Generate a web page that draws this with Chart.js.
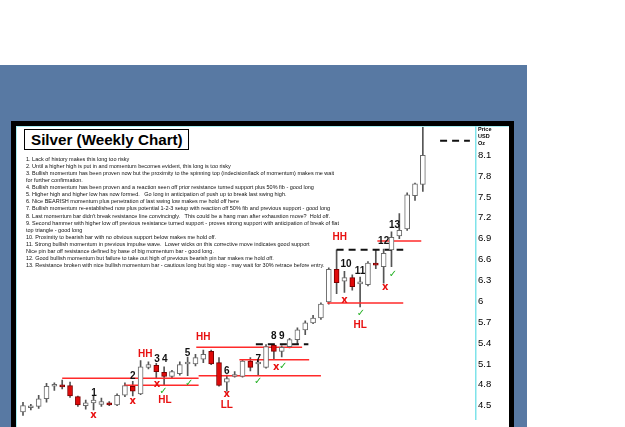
<!DOCTYPE html>
<html><head><meta charset="utf-8">
<script src="https://cdn.jsdelivr.net/npm/chart.js@4/dist/chart.umd.min.js"></script>
<style>
html,body{margin:0;padding:0;width:625px;height:427px;overflow:hidden;background:#fff;}
#bg{position:absolute;left:0;top:65px;width:527px;height:362px;background:#5879a3;}
#frame{position:absolute;left:11px;top:121px;width:503px;height:330px;box-sizing:border-box;border:5px solid #000;background:#fff;}
#inner{position:absolute;left:0;top:0;right:0;bottom:0;border-left:1px solid #a8eef2;border-top:1px solid #a8eef2;}
#c{position:absolute;left:0;top:0;}
#title{position:absolute;left:24px;top:129px;width:165px;height:21px;box-sizing:border-box;border:1px solid #000;background:#fff;font:bold 15.2px "Liberation Sans",Arial,sans-serif;line-height:19px;padding-left:6px;color:#000;white-space:nowrap;}
#notes{position:absolute;left:26px;top:155.5px;font:5.5px "Liberation Sans",Arial,sans-serif;line-height:7.13px;white-space:pre;color:#111;}
#unit{position:absolute;left:478px;top:126px;font:bold 5.5px "Liberation Sans",Arial,sans-serif;line-height:7px;color:#000;}
</style></head>
<body>
<div id="bg"></div>
<div id="frame"><div id="inner"></div></div>
<canvas id="c" width="625" height="427"></canvas>
<div id="title">Silver (Weekly Chart)</div>
<div id="notes"></div>
<div id="unit">Price<br>USD<br>Oz</div>
<script>
// ---- data ----
const weeks  = Array.from({length: 52}, (_, k) => k);
const opens  = [4.41,4.47,4.49,4.60,4.78,4.80,4.79,4.63,4.50,4.54,4.52,4.54,4.51,4.65,4.78,4.67,5.05,5.08,4.98,4.92,4.96,5.10,5.10,5.17,5.28,5.12,4.84,4.92,4.92,5.14,5.10,5.05,5.37,5.28,5.35,5.45,5.59,5.69,5.76,5.99,6.46,6.29,6.34,6.25,6.24,6.54,6.50,6.74,6.94,7.04,7.52,7.68];
const closes = [4.50,4.48,4.60,4.78,4.79,4.77,4.64,4.51,4.54,4.58,4.56,4.51,4.65,4.79,4.71,5.06,5.09,4.99,4.92,4.99,5.09,5.11,5.19,5.24,5.10,4.79,4.89,4.93,5.14,5.05,5.11,5.35,5.28,5.34,5.45,5.59,5.69,5.76,5.96,6.46,6.27,6.34,6.21,6.26,6.55,6.52,6.69,6.92,7.02,7.53,7.69,8.10];
const highs  = [4.55,4.52,4.65,4.82,4.83,4.87,4.84,4.64,4.58,4.65,4.61,4.56,4.67,4.83,4.85,5.15,5.13,5.11,5.06,5.01,5.13,5.20,5.24,5.30,5.30,5.19,4.94,4.99,5.16,5.19,5.16,5.38,5.38,5.36,5.47,5.62,5.72,5.80,5.98,6.48,6.74,6.43,6.38,6.35,6.57,6.74,6.75,7.00,7.26,7.56,7.70,8.50];
const lows   = [4.36,4.44,4.46,4.55,4.72,4.74,4.62,4.49,4.45,4.44,4.49,4.50,4.50,4.63,4.64,4.66,5.03,4.89,4.79,4.90,4.94,4.93,5.07,5.12,5.09,4.78,4.71,4.91,4.91,5.00,4.93,5.04,5.16,5.20,5.33,5.38,5.52,5.68,5.74,5.96,6.11,6.13,6.16,5.92,6.22,6.47,6.26,6.50,6.90,7.02,7.45,7.58];
const yTicks = [4.5,4.8,5.1,5.4,5.7,6.0,6.3,6.6,6.9,7.2,7.5,7.8,8.1];

// support / resistance lines: [fromWeek, toWeek, price]
const redLines = [[5.0,22.4,4.893],[22.4,38.0,4.93],[12.9,22.4,4.795],[22.1,35.6,5.341],[27.6,36.5,5.159],[38.8,48.5,5.975],[45.2,50.8,6.868]];
const dashLines = [[40.0,48.5,6.741],[29.7,36.4,5.383],[53.2,57.0,8.31]];

// annotations: [text, week, price]
const numLabels = [["1",9.06,4.68],["2",14,4.92],["3",17.1,5.17],["4",18.1,5.17],["5",21,5.26],["6",26,4.99],["7",30,5.17],["8",32,5.50],["9",33,5.50],["10",41.2,6.53],["11",43,6.43],["12",46,6.87],["13",47.4,7.10]];
const swingLabels = [["HH",15.6,5.24],["HH",23,5.48],["HH",40.4,6.92],["HL",18.1,4.58],["HL",43,5.66],["LL",26,4.50]];
const crosses = [[9,4.36],[14,4.56],[17.1,4.81],[26,4.66],[32.3,5.05],[41,6.01],[46.2,6.20]];
const checks = [[17.9,4.71],[21.2,4.82],[30,4.85],[33.2,5.07],[43.1,5.82],[47.2,6.39]];

const notes = [
"1. Lack of history makes this long too risky",
"2. Until a higher high is put in and momentum becomes evident, this long is too risky",
"3. Bullish momentum has been proven now but the proximity to the spinning top (indecision/lack of momentum) makes me wait",
"for further confirmation.",
"4. Bullish momentum has been proven and a reaction seen off prior resistance turned support plus 50% fib - good long",
"5. Higher high and higher low has now formed.   Go long in anticipation of push up to break last swing high.",
"6. Nice BEARISH momentum plus penetration of last swing low makes me hold off here",
"7. Bullish momentum re-established now plus potential 1-2-3 setup with reaction off 50% fib and previous support - good long",
"8. Last momentum bar didn't break resistance line convincingly.   This could be a hang man after exhaustion move?  Hold off.",
"9. Second hammer with higher low off previous resistance turned support - proves strong support with anticipation of break of flat",
"top triangle - good long",
"10. Proximity to bearish bar with no obvious support below makes me hold off.",
"11. Strong bullish momentum in previous impulse wave.  Lower wicks on this corrective move indicates good support",
"Nice pin bar off resistance defined by base of big momentum bar - good long.",
"12. Good bullish momentum but failure to take out high of previous bearish pin bar makes me hold off.",
"13. Resistance broken with nice bullish momentum bar - cautious long but big stop - may wait for 30% retrace before entry."
];
document.getElementById('notes').textContent = notes.join('\n');

// ---- chart ----
const up = weeks.map(k => closes[k] >= opens[k]);
const datasets = [
  {type:'bar', label:'body', order:1, grouped:false, barThickness:5, minBarLength:2, borderSkipped:false, borderWidth:1,
   data: weeks.map(k => ({x:k, y:[opens[k], closes[k]]})),
   backgroundColor: up.map(u => u ? '#ffffff' : '#e00a0a'),
   borderColor: up.map(u => u ? '#6a6a6a' : '#7a0000')},
  {type:'bar', label:'wick', order:3, grouped:false, barThickness:1, borderWidth:0,
   data: weeks.map(k => ({x:k, y:[lows[k], highs[k]]})),
   backgroundColor:'#555555'}
];
redLines.forEach(l => datasets.push({type:'line', order:2, data:[{x:l[0],y:l[2]},{x:l[1],y:l[2]}], borderColor:'#ff2a2a', borderWidth:1.5, pointRadius:0, fill:false}));
dashLines.forEach(l => datasets.push({type:'line', order:2, data:[{x:l[0],y:l[2]},{x:l[1],y:l[2]}], borderColor:'#111', borderWidth:2, borderDash:[7,5], pointRadius:0, fill:false}));

const marks = {
  id:'marks',
  afterDatasetsDraw(chart){
    const ctx = chart.ctx, xs = chart.scales.x, ys = chart.scales.y;
    ctx.save();
    ctx.textAlign = 'center'; ctx.textBaseline = 'middle';
    ctx.font = 'bold 10px "Liberation Sans", Arial, sans-serif';
    ctx.fillStyle = '#111';
    numLabels.forEach(a => ctx.fillText(a[0], xs.getPixelForValue(a[1]), ys.getPixelForValue(a[2])));
    ctx.fillStyle = '#e81010';
    swingLabels.forEach(a => ctx.fillText(a[0], xs.getPixelForValue(a[1]), ys.getPixelForValue(a[2])));
    ctx.font = 'bold 10px "DejaVu Sans", sans-serif';
    crosses.forEach(a => ctx.fillText('x', xs.getPixelForValue(a[0]), ys.getPixelForValue(a[1])));
    ctx.fillStyle = '#22b022';
    checks.forEach(a => ctx.fillText('\u2713', xs.getPixelForValue(a[0]), ys.getPixelForValue(a[1])));
    ctx.restore();
  }
};

new Chart(document.getElementById('c'), {
  type:'bar',
  data:{datasets},
  options:{
    responsive:false, devicePixelRatio:1, animation:false,
    layout:{padding:{left:17, top:127, right:109, bottom:0}},
    plugins:{legend:{display:false}, tooltip:{enabled:false}},
    scales:{
      x:{type:'linear', display:false, offset:false, min:-0.765, max:57.78},
      y:{type:'linear', position:'right', min:4.3045, max:8.506, beginAtZero:false,
         afterBuildTicks: s => { s.ticks = yTicks.map(v => ({value:v})); },
         afterFit: s => { s.width = 40; },
         grid:{display:true, color:'rgba(0,0,0,0)', drawTicks:false},
         border:{display:true, color:'#7fe3ea', width:1.5},
         ticks:{padding:2, color:'#000', font:{family:'Liberation Sans', size:9.5},
                callback: v => String(Math.round(v*10)/10)}}
    }
  },
  plugins:[marks]
});
</script>
</body></html>
